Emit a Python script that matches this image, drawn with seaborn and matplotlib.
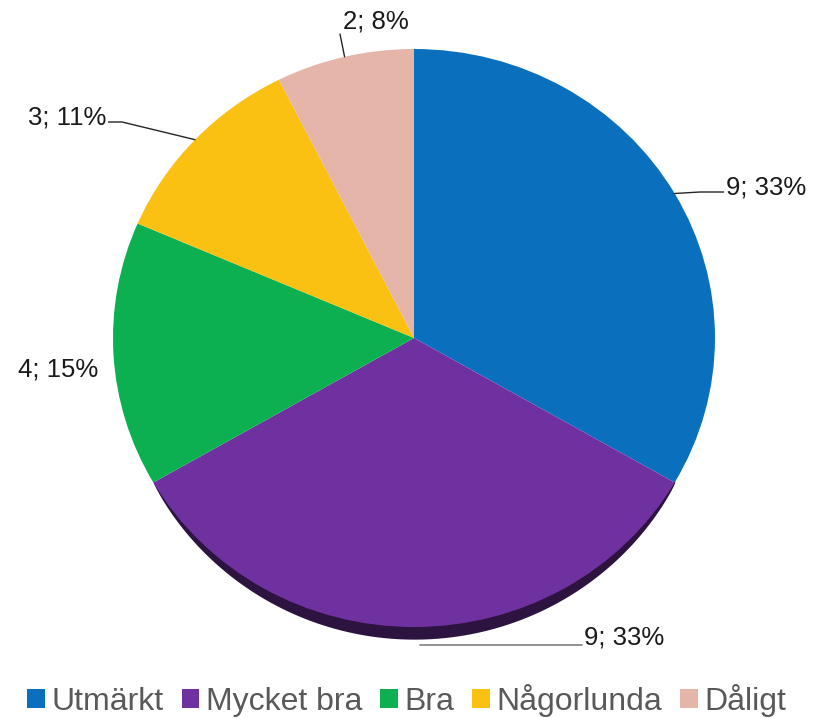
import numpy as np
import matplotlib
matplotlib.use("Agg")
import matplotlib.pyplot as plt
import matplotlib.colors as mcolors
from matplotlib.patches import Patch
import seaborn as sns

categories = ["Utmärkt", "Mycket bra", "Bra", "Någorlunda", "Dåligt"]
counts = [9, 9, 4, 3, 2]
pct_labels = ["33%", "33%", "15%", "11%", "8%"]
colors = ["#0A70BE", "#7031A0", "#0DB050", "#FAC012", "#E6B5A9"]

sns.set_theme(style="white")
plt.rcParams["font.family"] = ["Liberation Sans", "DejaVu Sans"]

fig = plt.figure(figsize=(8.14, 7.18), dpi=100)
ax = fig.add_axes([0, 0, 1, 1])

# pixel mapping: centre (414, 338), rx 301, ry 289
cx, cy, rx, ry = 414, 338, 301, 289
W, H = 814, 718

wedges, _ = ax.pie(counts, colors=colors, startangle=90, counterclock=False,
                   radius=1.0, center=(0, 0), wedgeprops=dict(linewidth=0, zorder=2))

# 3D depth rim under the bottom slice, tapering towards its ends
bottom = wedges[1]
t1, t2 = sorted([bottom.theta1, bottom.theta2])
xs_a = np.cos(np.deg2rad(np.linspace(t1, t2, 400)))
x_lo, x_hi = xs_a.min(), xs_a.max()
xs = np.linspace(x_lo, x_hi, 600)
arc = -np.sqrt(np.clip(1 - xs ** 2, 0, None))
end_depth = np.sqrt(1 - x_hi ** 2)
thick = 0.042 * np.clip((-arc - end_depth) / (1 - end_depth), 0, 1) ** 0.6
ax.fill_between(xs, arc - thick, arc + 0.01, color=mcolors.to_hex(
    np.array(mcolors.to_rgb(colors[1])) * 0.4), linewidth=0, zorder=1)

ax.set_aspect("auto")
ax.set_xlim(-cx / rx, (W - cx) / rx)
ax.set_ylim((cy - H) / ry, cy / ry)
ax.axis("off")

def px(x, y):
    return (x - cx) / rx, (cy - y) / ry

texts = [f"{c}; {p}" for c, p in zip(counts, pct_labels)]
layout = [
    dict(t=px(726, 188), ha="left", elbow=px(700, 192)),
    dict(t=px(584, 637), ha="left", elbow=px(420, 645), flat=True),
    dict(t=px(98, 370), ha="right", elbow=None),
    dict(t=px(106, 117), ha="right", elbow=px(122, 122)),
    dict(t=px(343, 22), ha="left", elbow=px(340, 34)),
]

for w, t, lay in zip(wedges, texts, layout):
    mid = np.deg2rad((w.theta1 + w.theta2) / 2)
    ex, ey = np.cos(mid), np.sin(mid)
    tx, ty = lay["t"]
    ax.text(tx, ty, t, ha=lay["ha"], va="center", fontsize=18.5, color="#1a1a1a")
    el = lay["elbow"]
    if el is None:
        continue
    if lay.get("flat"):
        ax.plot([el[0], tx - 0.005], [el[1], el[1]], color="#7f7f7f", lw=1.2, zorder=3)
    elif lay["ha"] == "left" and ty < 1:
        ax.plot([ex, el[0], tx - 0.008], [ey, el[1], el[1]], color="#262626", lw=1.0, zorder=3)
    elif lay["ha"] == "right":
        ax.plot([ex, el[0], tx + 0.008], [ey, el[1], el[1]], color="#262626", lw=1.0, zorder=3)
    else:
        ax.plot([ex, el[0]], [ey, el[1]], color="#262626", lw=1.0, zorder=3)

handles = [Patch(facecolor=c, edgecolor="none", label=l) for c, l in zip(colors, categories)]
leg = fig.legend(handles=handles, loc="center", bbox_to_anchor=(0.5, 0.025),
                 ncol=5, frameon=False, fontsize=23, handlelength=0.55,
                 handleheight=0.55, handletextpad=0.22, columnspacing=0.55)
for txt in leg.get_texts():
    txt.set_color("#595959")

fig.savefig("out.png", dpi=100)
